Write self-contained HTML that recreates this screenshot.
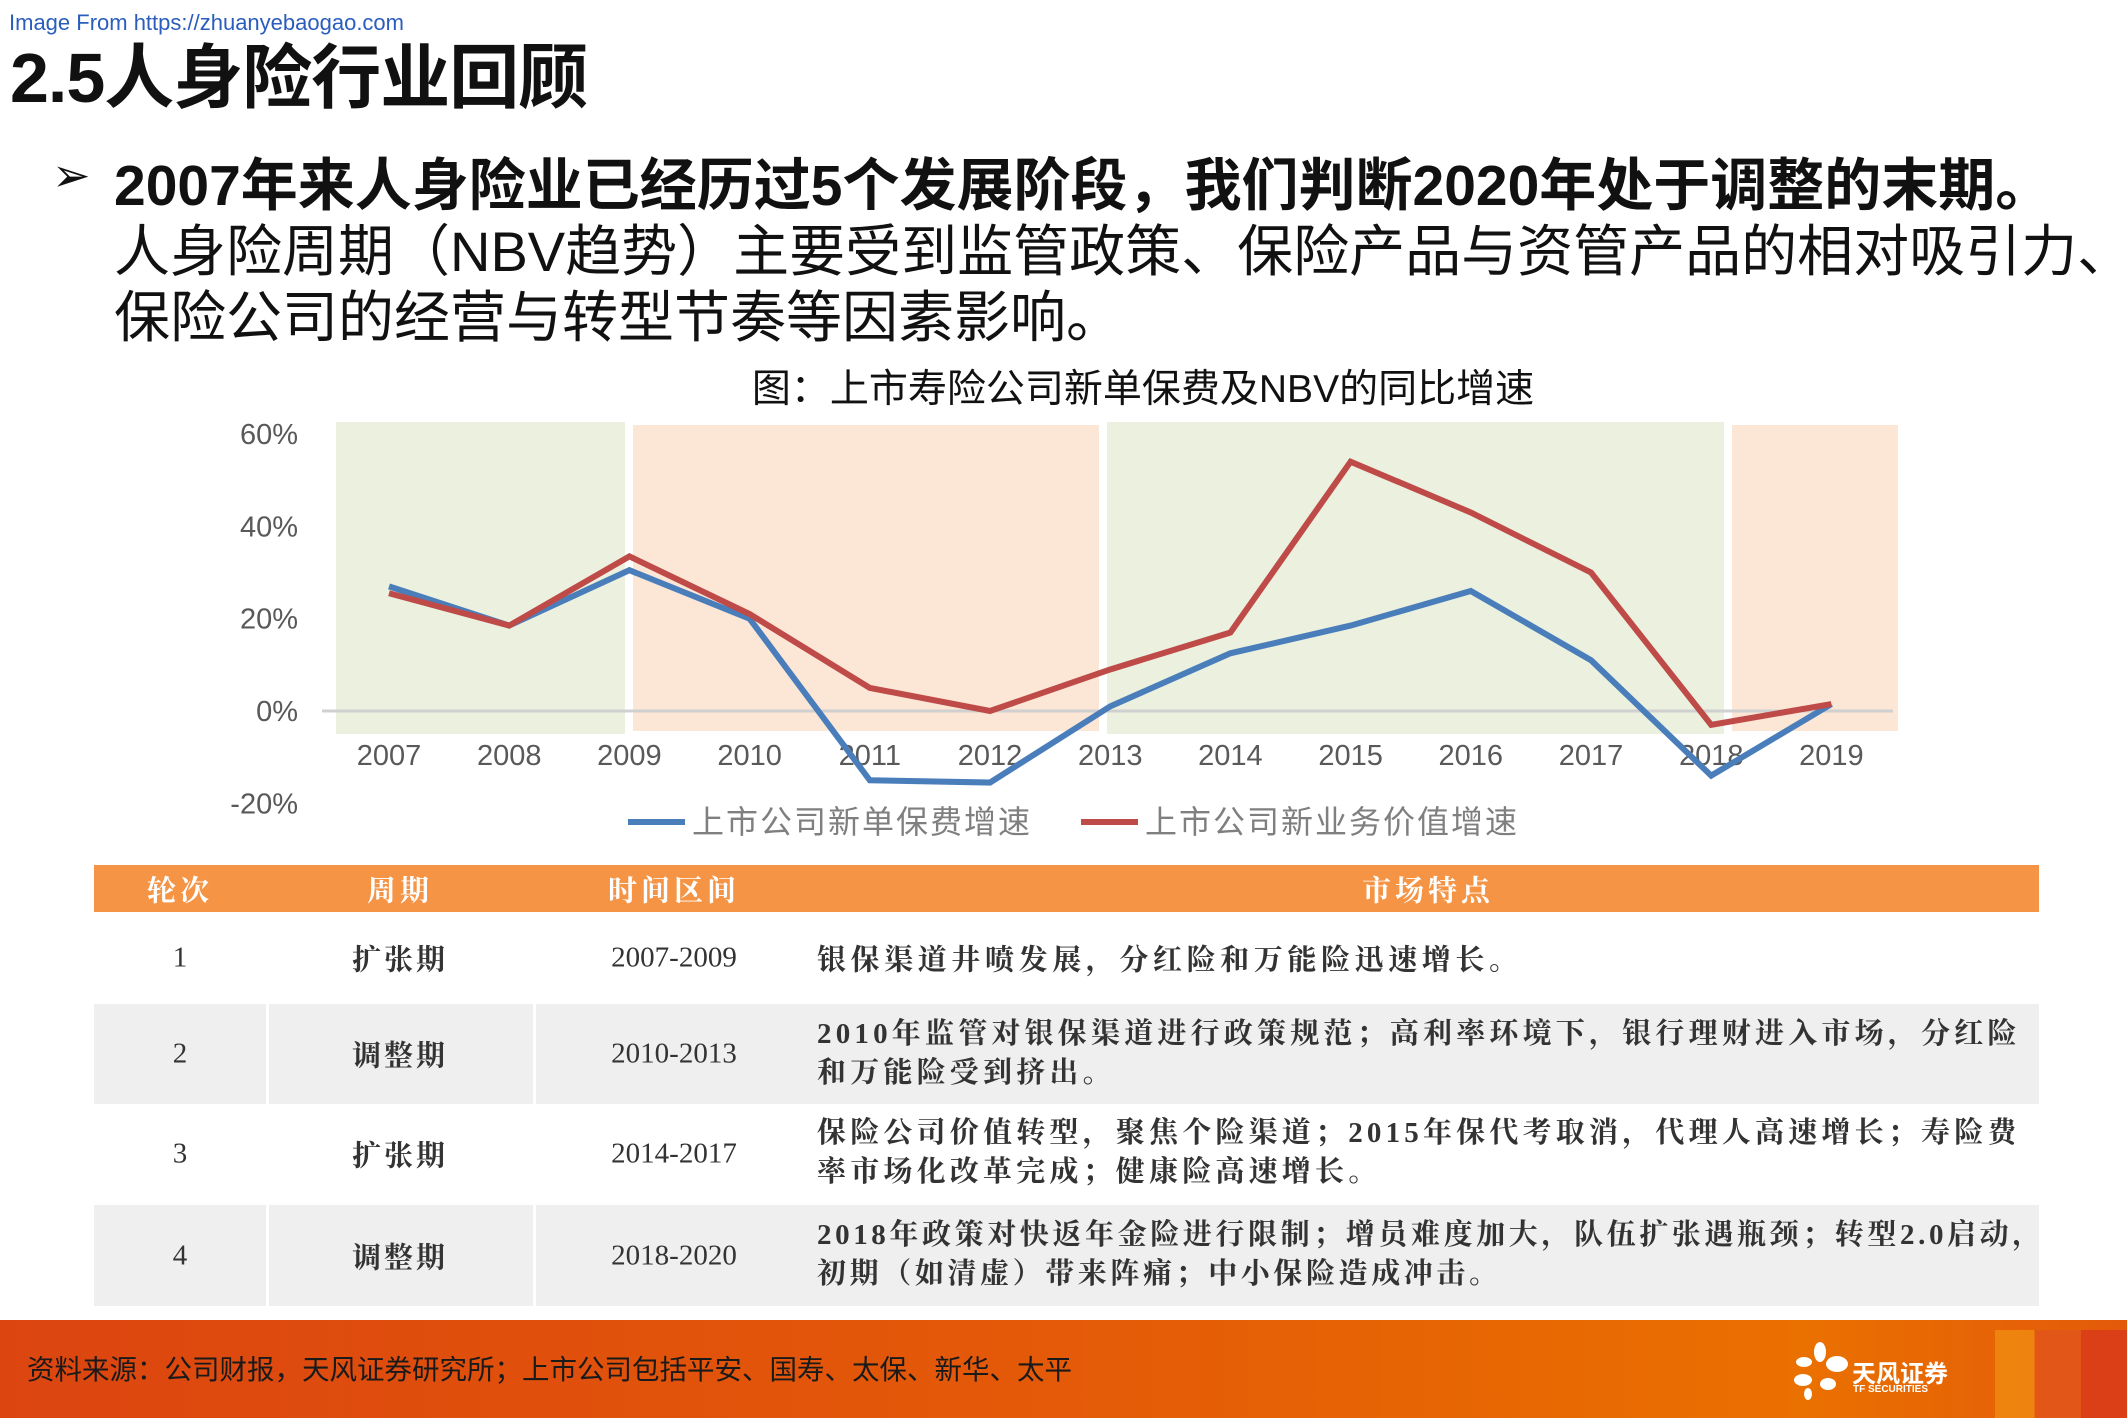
<!DOCTYPE html>
<html><head><meta charset="utf-8">
<style>
body{margin:0;width:2127px;height:1418px;position:relative;overflow:hidden;background:#fff;font-family:"Liberation Sans","Noto Sans CJK SC",sans-serif;}
.a{position:absolute;white-space:nowrap;}
.cell{position:absolute;font-family:"Liberation Serif","Noto Serif CJK SC",serif;font-size:29px;color:#333;white-space:nowrap;}
.c{transform:translate(-50%,-50%);}
.l{transform:translateY(-50%);letter-spacing:4.2px;}
</style></head><body>
<div class="a" style="left:9px;top:10px;font-size:22px;color:#2a5dbd;">Image From https://zhuanyebaogao.com</div>
<div class="a" style="left:10px;top:22px;font-size:70px;font-weight:bold;color:#111;letter-spacing:-1px;">2.5人身险行业回顾</div>
<div class="a" style="left:52px;top:148px;font-size:46px;color:#111;">➢</div>
<div class="a" style="left:114px;top:140px;font-size:57px;font-weight:bold;color:#111;">2007年来人身险业已经历过5个发展阶段，我们判断2020年处于调整的末期。</div>
<div class="a" style="left:114px;top:207px;font-size:56px;color:#111;">人身险周期（NBV趋势）主要受到监管政策、保险产品与资管产品的相对吸引力、</div>
<div class="a" style="left:114px;top:273px;font-size:56px;color:#111;">保险公司的经营与转型节奏等因素影响。</div>

<svg id="chart" style="position:absolute;left:0;top:0" width="2127" height="860"></svg>

<div style="position:absolute;left:94px;top:865px;width:1945px;height:47px;background:#f59445;"></div>
<div class="cell c" style="left:180px;top:889px;color:#fff;font-weight:bold;letter-spacing:4px;">轮次</div>
<div class="cell c" style="left:400px;top:889px;color:#fff;font-weight:bold;letter-spacing:4px;">周期</div>
<div class="cell c" style="left:674px;top:889px;color:#fff;font-weight:bold;letter-spacing:4px;">时间区间</div>
<div class="cell c" style="left:1428px;top:889px;color:#fff;font-weight:bold;letter-spacing:4px;">市场特点</div>

<div style="position:absolute;left:94px;top:1004px;width:1945px;height:100px;background:#efefef;"></div>
<div style="position:absolute;left:94px;top:1205px;width:1945px;height:101px;background:#efefef;"></div>
<div style="position:absolute;left:266px;top:1004px;width:3px;height:302px;background:#fff;"></div>
<div style="position:absolute;left:533px;top:1004px;width:3px;height:302px;background:#fff;"></div>

<div class="cell c" style="left:180px;top:958px;">1</div>
<div class="cell c" style="left:400px;top:958px;font-weight:bold;letter-spacing:3px;">扩张期</div>
<div class="cell c" style="left:674px;top:958px;">2007-2009</div>
<div class="cell l" style="left:817px;top:958px;font-weight:bold;letter-spacing:4.6px;">银保渠道井喷发展，分红险和万能险迅速增长。</div>

<div class="cell c" style="left:180px;top:1054px;">2</div>
<div class="cell c" style="left:400px;top:1054px;font-weight:bold;letter-spacing:3px;">调整期</div>
<div class="cell c" style="left:674px;top:1054px;">2010-2013</div>
<div class="cell l" style="left:817px;top:1054px;font-weight:bold;line-height:39px;">2010年监管对银保渠道进行政策规范；高利率环境下，银行理财进入市场，分红险<br>和万能险受到挤出。</div>

<div class="cell c" style="left:180px;top:1154px;">3</div>
<div class="cell c" style="left:400px;top:1154px;font-weight:bold;letter-spacing:3px;">扩张期</div>
<div class="cell c" style="left:674px;top:1154px;">2014-2017</div>
<div class="cell l" style="left:817px;top:1153px;font-weight:bold;line-height:39px;">保险公司价值转型，聚焦个险渠道；2015年保代考取消，代理人高速增长；寿险费<br>率市场化改革完成；健康险高速增长。</div>

<div class="cell c" style="left:180px;top:1256px;">4</div>
<div class="cell c" style="left:400px;top:1256px;font-weight:bold;letter-spacing:3px;">调整期</div>
<div class="cell c" style="left:674px;top:1256px;">2018-2020</div>
<div class="cell l" style="left:817px;top:1255px;font-weight:bold;line-height:39px;letter-spacing:3.6px;">2018年政策对快返年金险进行限制；增员难度加大，队伍扩张遇瓶颈；转型2.0启动，<br>初期（如清虚）带来阵痛；中小保险造成冲击。</div>

<div style="position:absolute;left:0;top:1320px;width:2127px;height:98px;background:linear-gradient(90deg,#dc4510 0%,#e45a08 50%,#ea7000 85%,#e35a0a 100%);"></div>
<div style="position:absolute;left:1995px;top:1330px;width:132px;height:88px;background:linear-gradient(90deg,#f08a10 0 30%,#e2541a 30% 65%,#d83a1a 65% 100%);opacity:.85;"></div>
<div class="a" style="left:27px;top:1347px;font-size:27.5px;color:#1a1a1a;">资料来源：公司财报，天风证券研究所；上市公司包括平安、国寿、太保、新华、太平</div>
<svg style="position:absolute;left:1790px;top:1340px" width="60" height="60">
<g fill="#fff"><ellipse cx="30" cy="12" rx="6" ry="10"/><ellipse cx="47" cy="24" rx="11" ry="8"/><ellipse cx="14" cy="22" rx="8" ry="5"/><ellipse cx="13" cy="40" rx="9" ry="6"/><ellipse cx="38" cy="44" rx="8" ry="6"/><ellipse cx="18" cy="54" rx="4" ry="6"/></g></svg>
<div class="a" style="left:1852px;top:1354px;font-size:24px;font-weight:bold;color:#fff;">天风证券</div>
<div class="a" style="left:1853px;top:1384px;font-size:10px;font-weight:bold;color:#fff;">TF SECURITIES</div>

<script>
const years=['2007','2008','2009','2010','2011','2012','2013','2014','2015','2016','2017','2018','2019'];
const premiumGrowth=[27,18.5,30.5,20,-15,-15.5,1,12.5,18.5,26,11,-14,1.5];
const nbvGrowth=[25.5,18.5,33.5,21,5,0,9,17,54,43,30,-3,1.5];
const yTicks=[60,40,20,0,-20];
const bandStarts=['2007','2009','2013','2018'];
const bandColors=['#ebf0df','#fce6d6','#ebf0df','#fce6d6'];
const svg=document.getElementById('chart');
const NS='http://www.w3.org/2000/svg';
const x0=389,dx=120.2;
function X(i){return x0+i*dx;}
function Y(v){return 711-v*(277/60);}
function mk(t,a){const e=document.createElementNS(NS,t);for(const k in a)e.setAttribute(k,a[k]);svg.appendChild(e);return e;}
const bandEdges=[336,633,1107,1732,1898];
bandStarts.forEach((s,i)=>{
  const r=mk('rect',{x:bandEdges[i],y:422+(i%2?3:0),width:bandEdges[i+1]-bandEdges[i]-(i<3?8:0),height:312-(i%2?6:0),fill:bandColors[i]});
  
  
});
const zl=mk('line',{x1:322,x2:1893,y1:Y(0),y2:Y(0),stroke:'#d0d0d0','stroke-width':3});


yTicks.forEach(v=>{
  const t=mk('text',{x:298,y:Y(v)+10,'text-anchor':'end','font-size':29,fill:'#595959','font-family':'Liberation Sans, sans-serif'});
  t.textContent=v+'%';
  
  
});
years.forEach((y,i)=>{
  const t=mk('text',{x:X(i),y:765,'text-anchor':'middle','font-size':29,fill:'#595959','font-family':'Liberation Sans, sans-serif'});
  t.textContent=y;
  
  
});
function line(data,color,name){
  const p=mk('polyline',{points:data.map((v,i)=>X(i)+','+Y(v)).join(' '),fill:'none',stroke:color,'stroke-width':6,'stroke-linejoin':'miter'});
  
  
}
line(premiumGrowth,'#4a7ebb','premium-growth-line');
line(nbvGrowth,'#be4b48','nbv-growth-line');
const tt=mk('text',{x:1143,y:402,'text-anchor':'middle','font-size':39,fill:'#111','font-family':'Liberation Sans, Noto Sans CJK SC, sans-serif'});
tt.textContent='图：上市寿险公司新单保费及NBV的同比增速';


[[628,'#4a7ebb','上市公司新单保费增速'],[1081,'#be4b48','上市公司新业务价值增速']].forEach(([x,c,s],i)=>{
  const l=mk('line',{x1:x,x2:x+57,y1:822,y2:822,stroke:c,'stroke-width':6});
  
  
  const t=mk('text',{x:x+64,y:833,'font-size':32,fill:'#7f7f7f','letter-spacing':'2','font-family':'Liberation Sans, Noto Sans CJK SC, sans-serif'});
  t.textContent=s;
  
  
});
</script>
</body></html>
